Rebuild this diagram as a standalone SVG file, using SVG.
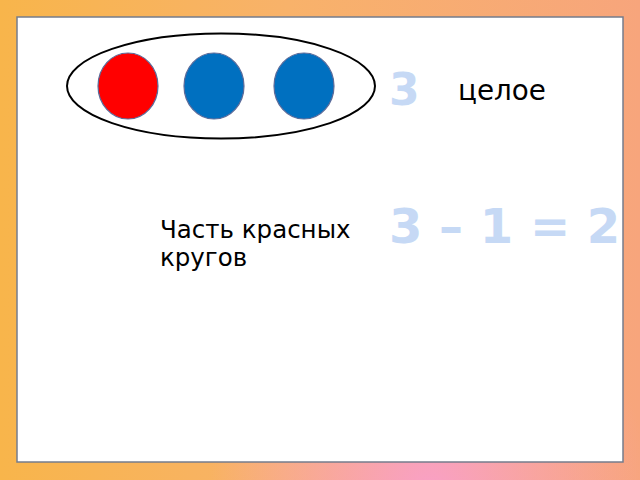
<svg xmlns="http://www.w3.org/2000/svg" width="640" height="480" viewBox="0 0 640 480">
<defs>
<linearGradient id="bg" x1="0" y1="0" x2="1" y2="0">
<stop offset="0" stop-color="#f8b54b"/>
<stop offset="0.45" stop-color="#f8b26a"/>
<stop offset="1" stop-color="#f7a57c"/>
</linearGradient>
<radialGradient id="pink" cx="430" cy="490" r="220" gradientUnits="userSpaceOnUse">
<stop offset="0" stop-color="#f9a0c6" stop-opacity="1"/>
<stop offset="1" stop-color="#f9a0c6" stop-opacity="0"/>
</radialGradient>
<style>
.ball{stroke:#5b6b9a;stroke-width:1.2}
.red{fill:#ff0000}
.blue{fill:#0070c0}
.num{font-family:"DejaVu Sans",Verdana,sans-serif;font-weight:bold;fill:#c6d9f5}
.lbl{font-family:"DejaVu Sans",Verdana,sans-serif;fill:#000}
</style>
</defs>
<rect x="0" y="0" width="640" height="480" fill="url(#bg)"/>
<rect x="0" y="0" width="640" height="480" fill="url(#pink)"/>
<rect x="17" y="17" width="606" height="445" fill="#ffffff" stroke="#747c8c" stroke-width="1.5"/>
<g id="set">
<ellipse cx="221" cy="86" rx="154" ry="52.5" fill="none" stroke="#000" stroke-width="2"/>
</g>
<g id="ball-red"><ellipse class="ball red" cx="128" cy="86" rx="30" ry="33"/></g>
<g id="ball-blue-1"><ellipse class="ball blue" cx="214" cy="86" rx="30" ry="33"/></g>
<g id="ball-blue-2"><ellipse class="ball blue" cx="304" cy="86" rx="30" ry="33"/></g>
<g id="connectors"></g>
<g id="total">
<text class="num" x="389" y="105" font-size="44">3</text>
<text class="lbl" x="458" y="100" font-size="27.8">целое</text>
</g>
<g id="equation">
<text class="num" x="389" y="243" font-size="48">3 – 1 = 2</text>
</g>
<g id="part">
<text class="lbl" x="160" y="238" font-size="24.5">Часть красных</text>
<text class="lbl" x="160" y="266" font-size="24.5">кругов</text>
</g>
</svg>
